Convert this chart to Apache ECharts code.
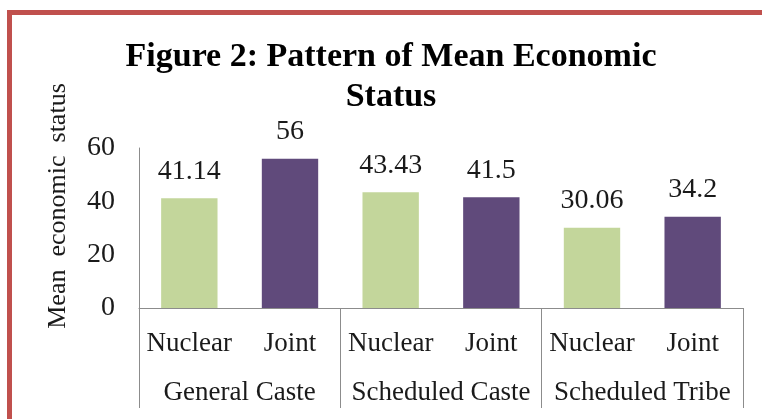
<!DOCTYPE html>
<html lang="en">
<head>
    <meta charset="UTF-8">
    <title>Figure 2: Pattern of Mean Economic Status</title>
    <script src="https://cdn.jsdelivr.net/npm/echarts@6/dist/echarts.min.js"></script>
    <style>
        html, body {
            margin: 0;
            padding: 0;
            background: #fff;
            overflow: hidden;
            width: 762px;
            height: 419px;
        }
        #frame {
            position: absolute;
            left: 7px;
            top: 10px;
            width: 750px;
            height: 404px;
            border-left: 5px solid #c0504d;
            border-top: 5px solid #c0504d;
            pointer-events: none;
        }
        #chart-container {
            position: absolute;
            left: 0;
            top: 0;
            width: 762px;
            height: 419px;
        }
    </style>
</head>
<body>
    <div id="chart-container"></div>
    <div id="frame"></div>

    <script>
        // data
        const familyTypes = ['Nuclear', 'Joint', 'Nuclear', 'Joint', 'Nuclear', 'Joint'];
        const casteGroups = ['General Caste', 'Scheduled Caste', 'Scheduled Tribe'];
        const meanStatus = [41.14, 56, 43.43, 41.5, 30.06, 34.2];
        const familyColors = { Nuclear: '#c3d69b', Joint: '#604a7b' };

        const serif = "'Liberation Serif', 'Times New Roman', serif";
        const textColor = '#1a1a1a';
        const lineColor = '#8c8c8c';

        const myChart = echarts.init(document.getElementById('chart-container'));

        const option = {
            animation: false,
            title: {
                text: 'Figure 2: Pattern of Mean Economic\nStatus',
                left: 391,
                top: 37,
                padding: 0,
                textAlign: 'center',
                textStyle: {
                    fontFamily: serif,
                    fontWeight: 'bold',
                    fontSize: 34,
                    lineHeight: 40,
                    color: '#000'
                }
            },
            grid: {
                left: 139,
                right: 19,
                top: 148,
                bottom: 111
            },
            xAxis: [
                {
                    type: 'category',
                    position: 'bottom',
                    data: familyTypes,
                    axisLine: { lineStyle: { color: lineColor, width: 1 } },
                    axisTick: { show: false },
                    axisLabel: {
                        interval: 0,
                        margin: 22,
                        fontFamily: serif,
                        fontSize: 27,
                        color: textColor
                    }
                },
                {
                    type: 'category',
                    position: 'bottom',
                    data: casteGroups,
                    axisLine: { show: false },
                    axisTick: {
                        show: true,
                        length: 100,
                        lineStyle: { color: lineColor, width: 1 }
                    },
                    axisLabel: {
                        interval: 0,
                        margin: 71,
                        fontFamily: serif,
                        fontSize: 27,
                        color: textColor
                    }
                }
            ],
            yAxis: {
                type: 'value',
                min: 0,
                max: 60,
                interval: 20,
                name: 'Mean  economic  status',
                nameLocation: 'middle',
                nameGap: 68,
                nameTextStyle: {
                    fontFamily: serif,
                    fontSize: 26,
                    color: textColor,
                    padding: [0, 0, 0, 44]
                },
                axisLine: { show: true, lineStyle: { color: lineColor, width: 1 } },
                axisTick: { show: false },
                splitLine: { show: false },
                axisLabel: {
                    margin: 24,
                    fontFamily: serif,
                    fontSize: 28,
                    color: textColor
                }
            },
            series: [{
                type: 'bar',
                xAxisIndex: 0,
                data: meanStatus.map((v, i) => ({
                    value: v,
                    itemStyle: { color: familyColors[familyTypes[i]] }
                })),
                barCategoryGap: '44%',
                label: {
                    show: true,
                    position: 'top',
                    distance: 13,
                    fontFamily: serif,
                    fontSize: 28,
                    lineHeight: 28,
                    color: textColor
                }
            }]
        };

        myChart.setOption(option);
    </script>
</body>
</html>
